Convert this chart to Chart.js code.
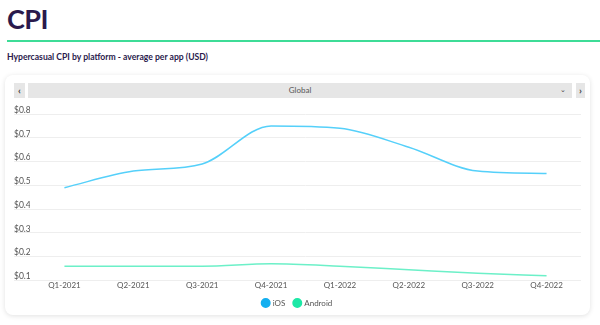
<!DOCTYPE html>
<html>
<head>
<meta charset="utf-8">
<script src="https://cdn.jsdelivr.net/npm/chart.js@4/dist/chart.umd.min.js"></script>
<style>
  html, body { margin:0; padding:0; background:#ffffff; width:600px; height:325px; overflow:hidden; font-family: Lato, "Noto Sans", sans-serif; }
  #title { position:absolute; left:7px; top:4px; font-size:27px; font-weight:700; color:#2a1a4c; letter-spacing:-0.5px; line-height:30px; }
  #rule { position:absolute; left:7px; top:40px; width:600px; height:2px; background:#3ddc97; }
  #subtitle { position:absolute; left:7px; top:51px; font-size:8.6px; font-weight:700; color:#2a1a4c; line-height:12px; }
  #card { position:absolute; left:5px; top:75px; width:585px; height:240px; background:#fff; border-radius:8px; box-shadow:0 1px 5px rgba(0,0,0,0.12); }
  .btn { position:absolute; top:83px; height:15px; background:#e6e6e6; color:#444; font-size:8px; line-height:15px; text-align:center; }
  #prev { left:14px; width:11px; font-weight:700; font-size:10px; }
  #next { left:576px; width:9px; font-weight:700; font-size:10px; }
  #select { left:28px; width:544px; }
  #select span.lbl { color:#555; font-size:8px; }
  #select span.chev { position:absolute; right:6px; top:-1px; font-size:7px; color:#444; }
  #wrap { position:absolute; left:0; top:100px; width:600px; height:217px; }
</style>
</head>
<body>
<div id="title">CPI</div>
<div id="rule"></div>
<div id="subtitle">Hypercasual CPI by platform - average per app (USD)</div>
<div id="card"></div>
<div class="btn" id="prev">&#8249;</div>
<div class="btn" id="select"><span class="lbl">Global</span><span class="chev">&#8964;</span></div>
<div class="btn" id="next">&#8250;</div>
<div id="wrap"><canvas id="c"></canvas></div>
<script>
const categories = ["Q1-2021","Q2-2021","Q3-2021","Q4-2021","Q1-2022","Q2-2022","Q3-2022","Q4-2022"];
const iosValues = [0.49, 0.56, 0.59, 0.75, 0.74, 0.66, 0.56, 0.55];
const androidValues = [0.16, 0.16, 0.16, 0.17, 0.16, 0.145, 0.13, 0.12];
const seriesNames = ["iOS", "Android"];
const yMin = 0.1, yMax = 0.8, yStep = 0.1;

const ctx = document.getElementById('c');
new Chart(ctx, {
  type: 'line',
  data: {
    labels: categories,
    datasets: [
      { label: seriesNames[0], data: iosValues, borderColor: '#55d0fa', backgroundColor: '#14aff0',
        borderWidth: 1.5, pointRadius: 0, cubicInterpolationMode: 'monotone', fill: false },
      { label: seriesNames[1], data: androidValues, borderColor: '#6cf0c8', backgroundColor: '#1de8a6',
        borderWidth: 1.5, pointRadius: 0, cubicInterpolationMode: 'monotone', fill: false }
    ]
  },
  options: {
    responsive: true,
    maintainAspectRatio: false,
    animation: false,
    layout: { padding: { left: 14, right: 19, top: 14, bottom: 0 } },
    plugins: {
      tooltip: { enabled: false },
      legend: {
        position: 'bottom',
        labels: {
          usePointStyle: true, pointStyle: 'circle', boxWidth: 6, boxHeight: 6, padding: 9,
          color: '#555', font: { family: 'Lato', size: 8 },
          generateLabels: (chart) => Chart.defaults.plugins.legend.labels.generateLabels(chart).map(l => { l.strokeStyle = l.fillStyle; return l; })
        }
      }
    },
    scales: {
      x: {
        offset: true,
        grid: { display: false, drawTicks: false },
        border: { display: false },
        ticks: { color: '#555', font: { family: 'Lato', size: 8 }, padding: 0, maxRotation: 0 }
      },
      y: {
        min: yMin, max: yMax,
        border: { display: false },
        grid: { color: '#eeeeee', lineWidth: 1, tickLength: 16, drawTicks: true },
        afterFit: (s) => { s.width = 16; },
        ticks: {
          stepSize: yStep, crossAlign: 'far', padding: -14,
          color: '#555', font: { family: 'Lato', size: 8.5, lineHeight: '8px' },
          callback: (v) => ['$' + Number(v).toFixed(1), '']
        }
      }
    }
  }
});
</script>
</body>
</html>
